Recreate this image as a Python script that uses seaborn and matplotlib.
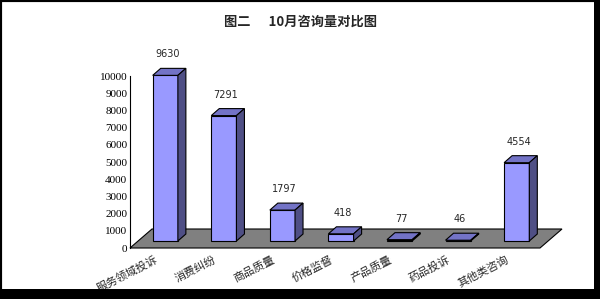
import matplotlib
matplotlib.use("Agg")
import matplotlib.pyplot as plt
import seaborn as sns
import pandas as pd
from matplotlib.patches import Polygon, Rectangle
from matplotlib.transforms import offset_copy

categories = ["服务领域投诉", "消费纠纷", "商品质量", "价格监督", "产品质量", "药品投诉", "其他类咨询"]
values = [9630, 7291, 1797, 418, 77, 46, 4554]
value_labels = ["9630", "7291", "1797", "418", "77", "46", "4554"]
yticks = list(range(0, 10001, 1000))
title = "图二      10月咨询量对比图"

sns.set_style("white")
plt.rcParams["font.family"] = ["Noto Sans CJK SC", "DejaVu Sans"]

W, H = 600, 299
fig = plt.figure(figsize=(W / 100, H / 100), dpi=100)
fig.patch.set_facecolor("white")
ax = fig.add_axes([130 / W, (H - 248) / H, 410 / W, 172 / H])
ax.patch.set_alpha(0)

df = pd.DataFrame({"cat": categories, "val": values})
sns.barplot(data=df, x="cat", y="val", ax=ax, color="#9999FF", width=0.43,
            saturation=1, edgecolor="black", linewidth=0.8, zorder=5)
ax.set_xlim(-0.5, len(categories) - 0.5)
ax.set_ylim(0, 10000)

# bar offset into depth and bar depth (pixels)
bx, by = 6, 7
dx, dy = 8, 7
fdx, fdy = 22, 19

off = offset_copy(ax.transData, fig=fig, x=bx, y=by, units="dots")
for p in ax.patches:
    p.set_transform(off)
    p.set_clip_on(False)

fig.canvas.draw()
# floor
x0, y0 = ax.transData.transform((-0.5, 0))
x1, _ = ax.transData.transform((len(categories) - 0.5, 0))
floor = Polygon([(x0, y0), (x1, y0), (x1 + fdx, y0 + fdy), (x0 + fdx, y0 + fdy)],
                closed=True, facecolor="#808080", edgecolor="black", linewidth=0.8,
                transform=None, zorder=1, clip_on=False)
ax.add_artist(floor)

for p, lab in zip(list(ax.patches), value_labels):
    (a, b), (c, d) = off.transform([(p.get_x(), p.get_y()), (p.get_x() + p.get_width(), p.get_y() + p.get_height())])
    top = Polygon([(a, d), (c, d), (c + dx, d + dy), (a + dx, d + dy)], closed=True,
                  facecolor="#7373C6", edgecolor="black", linewidth=0.8,
                  transform=None, zorder=6, clip_on=False)
    side = Polygon([(c, b), (c + dx, b + dy), (c + dx, d + dy), (c, d)], closed=True,
                   facecolor="#4F4F85", edgecolor="black", linewidth=0.8,
                   transform=None, zorder=6, clip_on=False)
    ax.add_artist(top)
    ax.add_artist(side)
    ax.text((a + c) / 2 + 2, d + 21, lab, transform=None, ha="center", va="center",
            fontsize=7, family="DejaVu Sans", zorder=7)

# axes styling
for s in ["top", "right", "bottom"]:
    ax.spines[s].set_visible(False)
ax.spines["left"].set_linewidth(0.8)
ax.spines["left"].set_color("black")
ax.set_yticks(yticks)
ax.set_yticklabels([str(t) for t in yticks], family="Liberation Serif", fontsize=8)
ax.tick_params(axis="y", direction="in", length=3, width=0.8, pad=2, colors="black")
ax.set_xticks([i + 0.5 for i in range(len(categories) - 1)])
ax.set_xticklabels([])
ax.tick_params(axis="x", direction="out", length=4, width=0.8, colors="black")
ax.set_xlabel("")
ax.set_ylabel("")

for i, c in enumerate(categories):
    xd, yd = ax.transData.transform((i, 0))
    ax.text(xd - 5, yd - 6, c, transform=None, rotation=27, rotation_mode="anchor",
            ha="right", va="top", fontsize=8)

fig.text(0.5, 1 - 22 / H, title, ha="center", va="center", fontsize=9.5, fontweight="bold")

# frame
fig.add_artist(Rectangle((0, 0), 1, 1, transform=fig.transFigure, fill=False,
                         edgecolor="black", linewidth=3))
fig.add_artist(Rectangle((594 / W, 0), 6 / W, 1, transform=fig.transFigure,
                         facecolor="black", edgecolor="none"))
fig.add_artist(Rectangle((0, 0), 1, 10 / H, transform=fig.transFigure,
                         facecolor="black", edgecolor="none"))

fig.savefig("out.png", dpi=100)
